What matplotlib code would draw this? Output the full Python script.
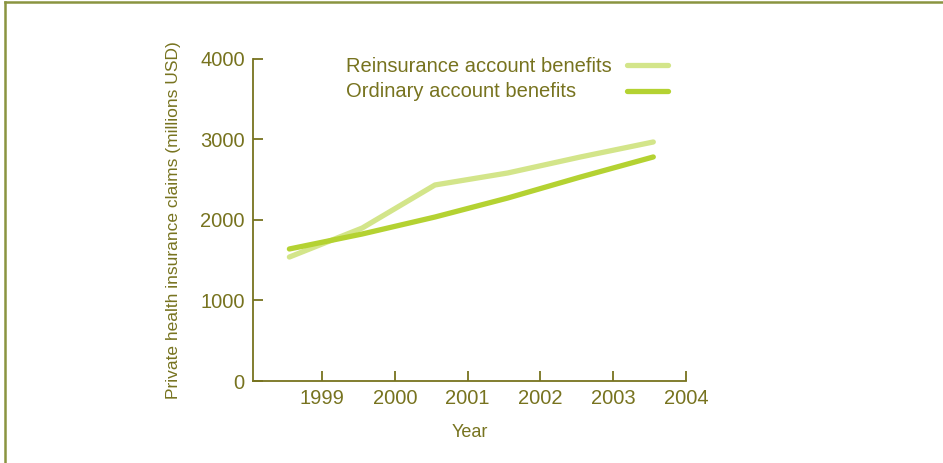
import matplotlib.pyplot as plt

years = [1999, 2000, 2001, 2002, 2003, 2004]
reinsurance = [1540, 1900, 2435, 2584, 2783, 2969]
ordinary = [1640, 1826, 2037, 2273, 2534, 2783]
y_ticks = [0, 1000, 2000, 3000, 4000]
series_names = ["Reinsurance account benefits", "Ordinary account benefits"]

olive = "#77731f"
light_green = "#d3e58a"
dark_green = "#b4d232"

plt.rcParams["font.family"] = ["Liberation Sans", "DejaVu Sans"]

fig = plt.figure(figsize=(9.43, 4.63), dpi=100)
ax = fig.add_axes([0.2683, 0.1771, 0.4592, 0.6955])

# each year's value sits in the band just left of its tick
xs = [y - 0.45 for y in years]
ax.plot(xs, reinsurance, color=light_green, lw=3.8, solid_capstyle="round",
        solid_joinstyle="round")
ax.plot(xs, ordinary, color=dark_green, lw=3.8, solid_capstyle="round",
        solid_joinstyle="round")

ax.set_xlim(1998.05, 2004)
ax.set_ylim(0, 4000)
ax.set_xticks(years)
ax.set_xticklabels([str(y) for y in years])
ax.set_yticks(y_ticks)

for side in ["top", "right"]:
    ax.spines[side].set_visible(False)
for side in ["left", "bottom"]:
    ax.spines[side].set_color(olive)
    ax.spines[side].set_linewidth(1.3)

ax.tick_params(direction="in", length=7, width=1.3, color=olive,
               labelcolor=olive, labelsize=14.5)
ax.tick_params(axis="x", pad=6)
ax.tick_params(axis="y", pad=6)

ax.set_xlabel("Year", color=olive, fontsize=13, labelpad=11)
ax.set_ylabel("Private health insurance claims (millions USD)", color=olive,
              fontsize=12.5, labelpad=14)

# key: left-aligned names with the line swatch to their right
for name, col, ty in zip(series_names, [light_green, dark_green], [0.978, 0.898]):
    ax.text(0.215, ty, name, transform=ax.transAxes, color=olive,
            fontsize=14.5, ha="left", va="center")
    ax.plot([0.864, 0.958], [ty + 0.003, ty + 0.003], transform=ax.transAxes,
            color=col, lw=3.8, solid_capstyle="round", clip_on=False)

# frame lines along the top and left edge
border = "#8a9440"
fig.add_artist(plt.Line2D([0.005, 1.0], [0.995, 0.995], transform=fig.transFigure,
                          color=border, lw=1.8))
fig.add_artist(plt.Line2D([0.005, 0.005], [0.0, 0.995], transform=fig.transFigure,
                          color=border, lw=1.8))

fig.savefig("out.png", dpi=100)
